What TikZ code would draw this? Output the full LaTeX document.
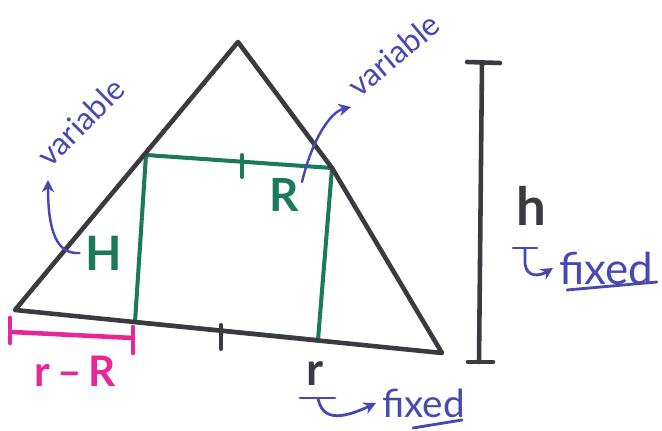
\documentclass[tikz,border=0pt]{standalone}
\usepackage{fontspec}
\setmainfont{Lato}
\usetikzlibrary{arrows.meta,positioning,calc}
\definecolor{pen}{RGB}{58,58,64}
\definecolor{boxgreen}{RGB}{28,122,92}
\definecolor{ink}{RGB}{72,72,178}
\definecolor{hot}{RGB}{232,38,150}

\begin{document}
\begin{tikzpicture}[x=0.02cm, y=-0.02cm, line cap=round, line join=round]
  \useasboundingbox (0,0) rectangle (662,431);

  % triangle corners and box corners
  \coordinate (apex) at (238,42);
  \coordinate (bl) at (15,310);
  \coordinate (br) at (442,353);
  \coordinate (tl) at (146,155);
  \coordinate (tr) at (332,168);
  \coordinate (ll) at (135,322);
  \coordinate (lr) at (318,340);

  \draw [boxgreen, line width=2.3pt] (tl) -- (tr) -- (lr) -- (ll) -- cycle;
  \draw [boxgreen, line width=2.3pt] (242,155) -- (242,177);
  \draw [pen, line width=2.6pt] (bl) -- (apex) -- (tr) -- (br) -- cycle;
  \draw [pen, line width=2.3pt] (221,325) -- (221,349);

  \node (H) [boxgreen, font=\fontsize{27}{27}\selectfont\bfseries] at (104,253) {H};
  \node (R) [boxgreen, font=\fontsize{26}{26}\selectfont\bfseries] at (284,195) {R};

  % height bar
  \coordinate (htop) at (482,62);
  \coordinate (hbot) at (479,362);
  \draw [pen, line width=2.6pt] (htop) -- (hbot);
  \draw [pen, line width=2.6pt] (467,62) -- (500,63);
  \draw [pen, line width=2.6pt] (468,362) -- (493,362);
  \node (h) [pen, font=\fontsize{30}{30}\selectfont\bfseries] at (531,206) {h};

  % r - R bar
  \coordinate (ma) at (12,332);
  \coordinate (mb) at (133,338);
  \draw [hot, line width=2.6pt] (ma) -- (mb);
  \draw [hot, line width=2.6pt] (10,318) -- (10,343);
  \draw [hot, line width=2.6pt] (133,327) -- (133,353);
  \node (rR) [hot, font=\fontsize{24}{24}\selectfont\bfseries] at (75,371) {r\,–\,R};

  \node (r) [pen, font=\fontsize{26}{26}\selectfont\bfseries] at (315,374) {r};

  % variable notes
  \node (varL) [ink, rotate=45, anchor=base west, inner sep=1pt, font=\fontsize{18}{18}\selectfont] at (49,170) {variable};
  \node (varR) [ink, rotate=40, anchor=base west, inner sep=1pt, font=\fontsize{18}{18}\selectfont] at (358,100) {variable};
  \coordinate (tipL) at (48,180);
  \coordinate (tipR) at (351,107);
  \draw [ink, line width=1.4pt, -{Stealth[length=7pt,width=7pt]}]
    (H.west) .. controls (62,254) and (48,242) .. (tipL);
  \draw [ink, line width=1.4pt, -{Stealth[length=7pt,width=7pt]}]
    (302,182) .. controls (312,140) and (330,112) .. (tipR);

  % fixed notes
  \node (fixH) [ink, anchor=west, font=\fontsize{25}{25}\selectfont] at (553,268) {fixed};
  \node (fixR) [ink, anchor=west, font=\fontsize{22}{22}\selectfont] at (376,403) {fixed};
  \draw [ink, line width=1.6pt] (513,248) -- (537,248);
  \draw [ink, line width=1.6pt, -{Stealth[length=7pt,width=7pt]}]
    (525,248) -- (525,264) .. controls (527,278) and (540,276) .. (fixH.west);
  \draw [ink, line width=1.6pt] (567,290) -- (657,282);
  \draw [ink, line width=1.6pt] (300,398) -- (335,398);
  \draw [ink, line width=1.6pt, -{Stealth[length=7pt,width=7pt]}]
    (318,398) .. controls (322,420) and (340,420) .. (fixR.west);
  \draw [ink, line width=1.6pt] (413,428) -- (462,420);
\end{tikzpicture}
\end{document}
